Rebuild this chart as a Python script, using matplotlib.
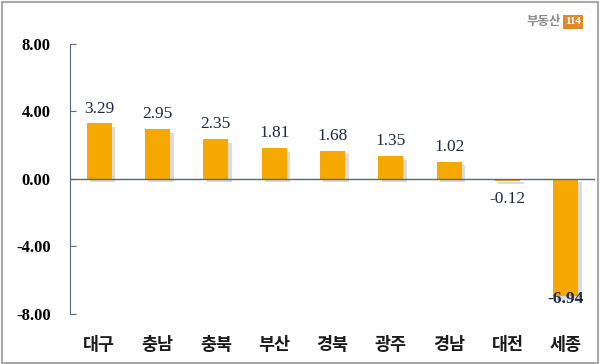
import matplotlib
matplotlib.use("Agg")
import matplotlib.pyplot as plt
import matplotlib.patheffects as pe
from matplotlib.patches import Rectangle

regions = ["대구", "충남", "충북", "부산", "경북", "광주", "경남", "대전", "세종"]
changes = [3.29, 2.95, 2.35, 1.81, 1.68, 1.35, 1.02, -0.12, -6.94]
yticks = [8.0, 4.0, 0.0, -4.0, -8.0]

bar_color = "#F5A900"
label_color = "#1c2a45"
axis_color = "#5a6878"
num_font = "Liberation Serif"
kr_font = ["Noto Sans CJK KR", "DejaVu Sans"]


def main():
    fig = plt.figure(figsize=(6.0, 3.64), dpi=100)
    ax = fig.add_axes([0.1167, 0.1374, 0.875, 0.7418])

    x = range(len(regions))
    bars = ax.bar(x, changes, width=0.43, color=bar_color, zorder=3)
    for b in bars:
        b.set_path_effects([pe.SimplePatchShadow(offset=(2.5, -2.5), shadow_rgbFace="#b0b0b0", alpha=0.45),
                            pe.Normal()])

    # value labels
    for i, v in enumerate(changes):
        if v >= 0:
            ax.annotate(f"{v:.2f}", (i, v), xytext=(0, 5), textcoords="offset points",
                        ha="center", va="bottom", fontsize=12.5, fontfamily=num_font,
                        color=label_color)
        elif v > -1:
            ax.annotate(f"{v:.2f}", (i, v), xytext=(0, -7), textcoords="offset points",
                        ha="center", va="top", fontsize=12.5, fontfamily=num_font,
                        color=label_color)
        else:
            ax.annotate(f"{v:.2f}", (i, v), xytext=(0, 4), textcoords="offset points",
                        ha="center", va="top", fontsize=12.5, fontfamily=num_font,
                        color=label_color, fontweight="bold")

    ax.set_xlim(-0.5, len(regions) - 0.5)
    ax.set_ylim(-8, 8)
    ax.set_yticks(yticks)
    ax.set_yticklabels([f"{t:.2f}" for t in yticks], fontfamily=num_font,
                       fontsize=12, fontweight="bold", color="black")
    ax.tick_params(axis="y", direction="in", length=4, color=axis_color, pad=14)
    ax.set_xticks([])

    for s in ["top", "right", "bottom"]:
        ax.spines[s].set_visible(False)
    ax.spines["left"].set_color(axis_color)
    ax.axhline(0, color=axis_color, lw=1.0, zorder=4)

    # category labels below the plot
    for i, name in enumerate(regions):
        ax.text(i, -9.3, name, ha="center", va="top", fontsize=12.5,
                fontweight="bold", family=kr_font, color="#1a1a1a")

    # source logo
    fig.text(0.935, 0.94, "부동산", ha="right", va="center", fontsize=9,
             family=kr_font, color="#8a8a8a", fontweight="bold")
    fig.text(0.955, 0.94, "114", ha="center", va="center", fontsize=8,
             color="white", fontweight="bold", fontfamily=num_font,
             bbox=dict(boxstyle="square,pad=0.2", fc="#e08a2c", ec="none"))

    # outer frame
    fig.patches.append(Rectangle((0.003, 0.004), 0.994, 0.99, transform=fig.transFigure,
                                 fill=False, ec="#a8a8a8", lw=1.5))

    fig.savefig("out.png", dpi=100)


if __name__ == "__main__":
    main()
